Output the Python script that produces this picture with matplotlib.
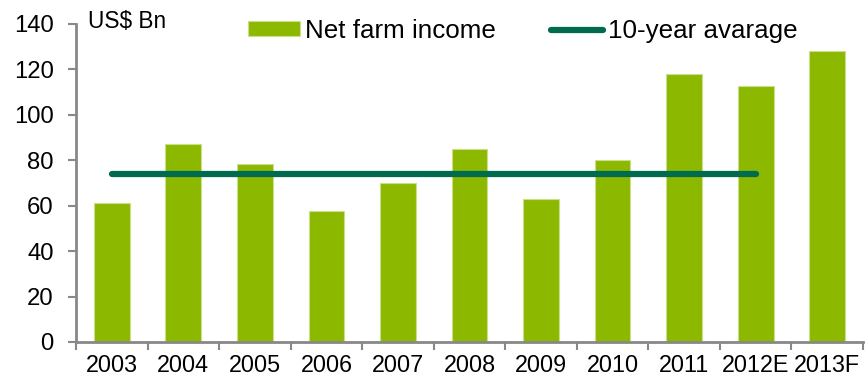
import matplotlib.pyplot as plt
import numpy as np

plt.rcParams['font.family'] = ['Liberation Sans', 'DejaVu Sans']

years = ['2003', '2004', '2005', '2006', '2007', '2008', '2009', '2010',
         '2011', '2012E', '2013F']
net_income = [61, 87, 78.5, 57.5, 70, 85, 63, 80, 118, 112.5, 128]
avg_value = 74
avg_span = ['2003', '2012E']

bar_color = '#8CB800'
line_color = '#006B4F'
axis_color = '#888888'

fig = plt.figure(figsize=(8.65, 3.79), dpi=100)
ax = fig.add_axes([76 / 865, 1 - 342 / 379, 787 / 865, 318 / 379])

x = np.arange(len(years))
bars = ax.bar(x, net_income, width=0.5, color=bar_color, edgecolor='#C9E08A',
              linewidth=0.8, zorder=2)

i0, i1 = years.index(avg_span[0]), years.index(avg_span[1])
line, = ax.plot([x[i0], x[i1]], [avg_value, avg_value], color=line_color,
                lw=4.5, solid_capstyle='round', zorder=3)

ax.set_xlim(-0.5, len(years) - 0.5)
ax.set_ylim(0, 140)
ax.set_yticks(range(0, 141, 20))
ax.set_xticks(x)
ax.set_xticklabels(years)
ax.set_xticks(np.arange(-0.5, len(years), 1.0), minor=True)

ax.tick_params(axis='x', which='major', length=0, pad=9, labelsize=16.8)
ax.tick_params(axis='x', which='minor', length=6, width=1.5, color=axis_color,
               direction='out')
ax.tick_params(axis='y', length=6, width=1.5, color=axis_color, pad=10,
               labelsize=17.2)

for side in ['top', 'right']:
    ax.spines[side].set_visible(False)
for side in ['left', 'bottom']:
    ax.spines[side].set_color(axis_color)
    ax.spines[side].set_linewidth(2)

fig.text(88 / 865, 1 - 21 / 379, 'US$ Bn', fontsize=16.3, ha='left',
         va='center')

leg = ax.legend([bars, line], ['Net farm income', '10-year avarage'],
                loc='center left', bbox_to_anchor=(248 / 865, 1 - 31 / 379),
                bbox_transform=fig.transFigure, ncol=2, frameon=False,
                fontsize=18.7, handlelength=2.0, handleheight=0.5,
                handletextpad=0.2, columnspacing=2.1, borderaxespad=0,
                borderpad=0)
for h in leg.legend_handles:
    if hasattr(h, 'set_solid_capstyle'):
        h.set_solid_capstyle('round')

fig.savefig('out.png', dpi=100)
